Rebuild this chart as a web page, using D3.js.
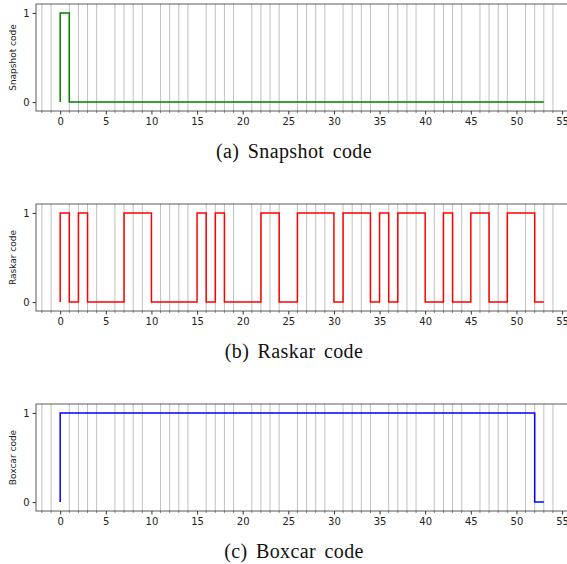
<!DOCTYPE html>
<html>
<head>
<meta charset="utf-8">
<script src="https://cdn.jsdelivr.net/npm/d3@7"></script>
<style>
  body { margin: 0; background: #fff; }
  svg text { font-family: "DejaVu Sans", sans-serif; }
  .caption { font-family: "Liberation Serif", "Times New Roman", serif; }
</style>
</head>
<body>
<svg id="chart" width="567" height="564"></svg>
<script>
// Coded exposure sequences (value held over [i, i+1])
const snapshotCode = [1, 0, 0, 0, 0, 0, 0, 0, 0, 0, 0, 0, 0, 0, 0, 0, 0, 0, 0, 0, 0, 0, 0, 0, 0, 0,
    0, 0, 0, 0, 0, 0, 0, 0, 0, 0, 0, 0, 0, 0, 0, 0, 0, 0, 0, 0, 0, 0, 0, 0, 0, 0, 0];
const raskarCode = [1, 0, 1, 0, 0, 0, 0, 1, 1, 1, 0, 0, 0, 0, 0, 1, 0, 1, 0, 0, 0, 0, 1, 1, 0, 0,
    1, 1, 1, 1, 0, 1, 1, 1, 0, 1, 0, 1, 1, 1, 0, 0, 1, 0, 0, 1, 1, 0, 0, 1, 1, 1, 0];
const boxcarCode = [1, 1, 1, 1, 1, 1, 1, 1, 1, 1, 1, 1, 1, 1, 1, 1, 1, 1, 1, 1, 1, 1, 1, 1, 1, 1,
    1, 1, 1, 1, 1, 1, 1, 1, 1, 1, 1, 1, 1, 1, 1, 1, 1, 1, 1, 1, 1, 1, 1, 1, 1, 1, 0];

const panels = [
    { code: snapshotCode, label: "Snapshot code", caption: "(a)  Snapshot code", color: "green" },
    { code: raskarCode, label: "Raskar code", caption: "(b)  Raskar code", color: "red" },
    { code: boxcarCode, label: "Boxcar code", caption: "(c)  Boxcar code", color: "blue" }
];

const xTicks = [0, 5, 10, 15, 20, 25, 30, 35, 40, 45, 50, 55];
const yTicks = [0, 1];

const svg = d3.select('#chart');
const left = 36, right = 568, panelTop = 4, panelH = 107, step = 200;

const x = d3.scaleLinear().domain([-2.65, 55.65]).range([left, right]);
const minor = d3.range(-2, 56).filter(v => v % 5 !== 0);

panels.forEach((p, i) => {
    const top = panelTop + i * step;
    const y = d3.scaleLinear().domain([-0.1, 1.1]).range([top + panelH, top]);
    const g = svg.append('g');

    // vertical grid at minor positions
    g.selectAll('line.grid')
        .data(minor)
        .enter().append('line')
        .attr('x1', d => x(d)).attr('x2', d => x(d))
        .attr('y1', top).attr('y2', top + panelH)
        .attr('stroke', '#b0b0b0')
        .attr('stroke-width', 0.8);

    // step line: starts at 0, then holds each value for one unit
    const pts = [[0, 0]];
    p.code.forEach((v, k) => { pts.push([k, v]); pts.push([k + 1, v]); });
    g.append('path')
        .attr('d', d3.line().x(d => x(d[0])).y(d => y(d[1]))(pts))
        .attr('fill', 'none')
        .attr('stroke', p.color)
        .attr('stroke-width', 1.5);

    // frame
    g.append('rect')
        .attr('x', left).attr('y', top)
        .attr('width', right - left).attr('height', panelH)
        .attr('fill', 'none')
        .attr('stroke', '#333')
        .attr('stroke-width', 0.8);

    // x axis
    const xAxis = g.append('g')
        .attr('transform', `translate(0,${top + panelH})`)
        .call(d3.axisBottom(x).tickValues(xTicks).tickFormat(d3.format('d')).tickSize(3.5).tickPadding(3));
    xAxis.select('.domain').remove();
    xAxis.selectAll('text').attr('font-size', 10).attr('fill', '#222');
    xAxis.selectAll('line').attr('stroke', '#333');
    g.append('g')
        .attr('transform', `translate(0,${top + panelH})`)
        .selectAll('line')
        .data(minor)
        .enter().append('line')
        .attr('x1', d => x(d)).attr('x2', d => x(d))
        .attr('y1', 0).attr('y2', 2)
        .attr('stroke', '#333')
        .attr('stroke-width', 0.6);

    // y axis
    const yAxis = g.append('g')
        .attr('transform', `translate(${left},0)`)
        .call(d3.axisLeft(y).tickValues(yTicks).tickFormat(d3.format('d')).tickSize(3.5).tickPadding(3));
    yAxis.select('.domain').remove();
    yAxis.selectAll('text').attr('font-size', 10).attr('fill', '#222');
    yAxis.selectAll('line').attr('stroke', '#333');

    g.append('text')
        .attr('transform', `translate(16,${top + panelH / 2}) rotate(-90)`)
        .attr('text-anchor', 'middle')
        .attr('font-size', 9)
        .attr('fill', '#222')
        .text(p.label);

    g.append('text')
        .attr('class', 'caption')
        .attr('x', 294)
        .attr('y', top + 154)
        .attr('text-anchor', 'middle')
        .attr('font-size', 20)
        .attr('letter-spacing', 0.4)
        .attr('word-spacing', 3)
        .attr('fill', '#111')
        .text(p.caption);
});
</script>
</body>
</html>
